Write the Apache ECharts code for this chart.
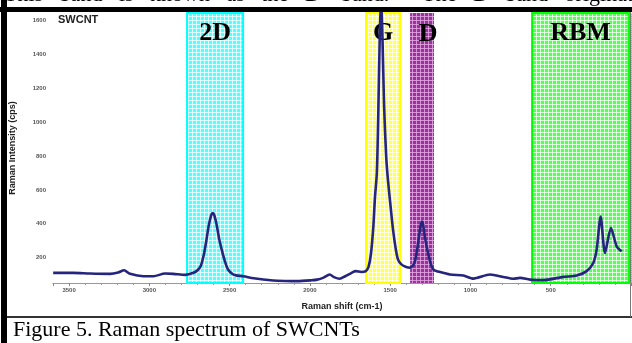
<!DOCTYPE html>
<html>
<head>
<meta charset="utf-8">
<script src="https://cdn.jsdelivr.net/npm/echarts@6/dist/echarts.min.js"></script>
<style>
  html, body { margin: 0; padding: 0; background: #fff; }
  #chart { width: 632px; height: 343px; }
</style>
</head>
<body>
<div id="chart"></div>
<script>
// Raman shift (cm-1) and intensity (cps)
const shifts = [3599, 3576, 3473, 3369, 3244, 3194, 3157, 3120, 3037, 2974, 2902, 2850, 2777, 2725,
  2700, 2680, 2660, 2645, 2630, 2615, 2605, 2595, 2580, 2565, 2550, 2530, 2510, 2480, 2460, 2414,
  2350, 2229, 2150, 2080, 1990, 1955, 1915, 1877, 1850, 1815, 1780, 1740, 1715, 1680, 1652,
  1635, 1620, 1605, 1595, 1583, 1575, 1565, 1557, 1548, 1538, 1525, 1513, 1495, 1482, 1465, 1451,
  1430, 1400, 1376, 1360, 1345, 1330, 1318, 1308, 1302, 1295, 1285, 1272, 1255, 1240, 1225, 1210,
  1127, 1044, 982, 878, 795, 733, 691, 629, 546, 421, 338, 276, 235, 214, 189, 162, 125, 89, 58];
const intensity = [110, 110, 110, 106, 104, 112, 125, 104, 90, 90, 106, 104, 98, 110,
  125, 150, 220, 300, 390, 450, 463, 450, 390, 310, 250, 180, 130, 102, 95, 90,
  78, 65, 62, 61, 66, 70, 82, 100, 85, 75, 90, 110, 120, 115, 120,
  145, 220, 380, 550, 700, 1000, 1500, 1750, 1500, 1100, 800, 650, 480, 364, 250, 188,
  160, 145, 141, 150, 180, 260, 340, 400, 413, 395, 330, 262, 190, 145, 125, 120,
  100, 94, 76, 100, 86, 75, 80, 70, 67, 86, 94, 120, 168, 247, 443, 227, 374, 266, 237];

// shaded bands: name, from, to
const bandNames = ['2D', 'G', 'D', 'RBM'];
const bandFrom = [2765, 1650, 1376, 616];
const bandTo = [2416, 1438, 1227, 12];

const xTicks = [500, 1000, 1500, 2000, 2500, 3000, 3500];
const yTicks = [200, 400, 600, 800, 1000, 1200, 1400, 1600];

function mesh(base, line) {
  const c = document.createElement('canvas');
  c.width = 4; c.height = 4;
  const g = c.getContext('2d');
  g.fillStyle = base; g.fillRect(0, 0, 4, 4);
  g.fillStyle = line; g.fillRect(0, 0, 4, 1); g.fillRect(0, 0, 1, 4);
  return { image: c, repeat: 'repeat' };
}

const bandStyles = [
  { color: mesh('#55ffff', 'rgba(255,255,255,0.75)'), borderColor: '#00ffff', borderWidth: 2 },
  { color: mesh('#ffff55', 'rgba(255,255,255,0.75)'), borderColor: '#ffff00', borderWidth: 2 },
  { color: mesh('#993399', 'rgba(230,170,230,0.8)'), borderWidth: 0 },
  { color: mesh('#55ff55', 'rgba(255,255,255,0.75)'), borderColor: '#00ff00', borderWidth: 2 },
];
const bandOffsets = [[0, 0], [0, 0], [6, 0], [0, 0]];

// text of the page above the figure, justified so it runs across the width
const aboveText = "This band is known as the D' band.  The D band originates".split(' ').join('   ');

const chart = echarts.init(document.getElementById('chart'), null, { renderer: 'canvas' });

const option = {
  backgroundColor: '#fff',
  animation: false,
  grid: { left: 53, right: 1, top: 13, bottom: 60 },
  xAxis: {
    type: 'value',
    inverse: true,
    min: 0,
    max: 3600,
    interval: 500,
    name: 'Raman shift (cm-1)',
    nameLocation: 'middle',
    nameGap: 19,
    nameTextStyle: { fontFamily: 'Liberation Sans', fontSize: 9, fontWeight: 'bold', color: '#222' },
    axisLine: { lineStyle: { color: '#999', width: 1 } },
    axisTick: { length: 3, lineStyle: { color: '#888' } },
    minorTick: { show: true, splitNumber: 5, length: 2, lineStyle: { color: '#999' } },
    axisLabel: {
      margin: 4, fontFamily: 'Liberation Sans', fontSize: 6, fontWeight: 'bold', color: '#555',
      customValues: xTicks, formatter: v => String(v)
    },
    splitLine: { show: false },
  },
  yAxis: {
    type: 'value',
    min: 50,
    max: 1645,
    name: 'Raman Intensity (cps)',
    nameLocation: 'middle',
    nameGap: 36,
    nameTextStyle: { fontFamily: 'Liberation Sans', fontSize: 9, fontWeight: 'bold', color: '#222' },
    axisLine: { show: true, lineStyle: { color: '#aaa', width: 1, type: 'dotted' } },
    axisTick: { show: true, length: 4, customValues: yTicks, lineStyle: { color: '#888' } },
    axisLabel: {
      margin: 7, fontFamily: 'Liberation Sans', fontSize: 6, fontWeight: 'bold', color: '#555',
      customValues: yTicks, formatter: v => String(v)
    },
    splitLine: { show: false },
  },
  graphic: [
    { type: 'rect', shape: { x: 1, y: 0, width: 6, height: 343 }, style: { fill: '#000' } },
    { type: 'rect', shape: { x: 0, y: 7, width: 632, height: 5 }, style: { fill: '#000' } },
    { type: 'rect', shape: { x: 7, y: 316, width: 625, height: 2 }, style: { fill: '#333' } },
    { type: 'rect', shape: { x: 630, y: 12, width: 1, height: 305 }, style: { fill: '#777' } },
    { type: 'text', left: 58, top: 14,
      style: { text: 'SWCNT', font: 'bold 11px "Liberation Sans"', fill: '#222' } },
    { type: 'text', left: 13, top: 319,
      style: { text: 'Figure 5. Raman spectrum of SWCNTs', font: '22px "Liberation Serif"', fill: '#000' } },
    { type: 'text', left: 4, top: -16, z: -1,
      style: { text: aboveText, font: '22px "Liberation Serif"', fill: '#000' } },
  ],
  series: [{
    type: 'line',
    data: shifts.map((s, i) => [s, intensity[i]]),
    symbol: 'none',
    smooth: 0.25,
    clip: true,
    lineStyle: { color: '#25257d', width: 2.6 },
    z: 5,
    markArea: {
      silent: true,
      data: bandNames.map((n, i) => [
        {
          name: n, xAxis: bandFrom[i], itemStyle: bandStyles[i],
          label: { offset: bandOffsets[i] }
        },
        { xAxis: bandTo[i] }
      ]),
      label: {
        show: true, position: 'insideTop', distance: 8,
        fontFamily: 'Liberation Serif', fontSize: 26, fontWeight: 'bold', color: '#000'
      }
    }
  }]
};

chart.setOption(option);
</script>
</body>
</html>
